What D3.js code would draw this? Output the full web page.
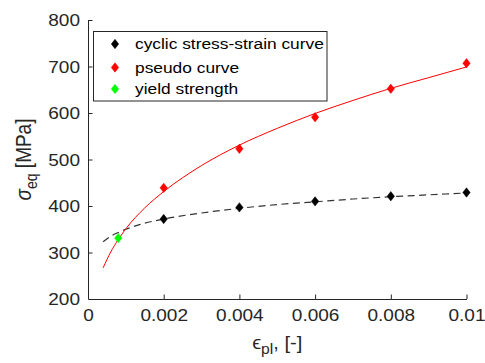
<!DOCTYPE html>
<html><head><meta charset="utf-8">
<script src="https://cdn.jsdelivr.net/npm/d3@7"></script>
<style>
html,body{margin:0;padding:0;background:#fff;}
svg{display:block;font-family:"Liberation Sans",Arial,sans-serif;}
</style></head>
<body><svg id="c" width="485" height="363"></svg>
<script>
// ---- data ----
const xTicks = [0, 0.002, 0.004, 0.006, 0.008, 0.01];
const xTickLabels = ["0", "0.002", "0.004", "0.006", "0.008", "0.01"];
const yTicks = [200, 300, 400, 500, 600, 700, 800];
const yTickLabels = ["200", "300", "400", "500", "600", "700", "800"];

const cyclicX = [0.002, 0.004, 0.006, 0.008, 0.01];
const cyclicY = [372, 397, 410, 421, 429];
const pseudoX = [0.002, 0.004, 0.006, 0.008, 0.01];
const pseudoY = [439, 523, 591, 652, 707];
const yieldX = [0.0008];
const yieldY = [331];

const curveX = [0.0004, 0.0006, 0.0008, 0.001, 0.0015, 0.002, 0.003, 0.004, 0.005, 0.006, 0.007, 0.008, 0.009, 0.01];
const pseudoCurveY = [267, 301, 328, 351, 396, 431, 487, 531, 567, 599, 627, 653, 676, 699];
const cyclicCurveY = [323, 335, 343, 350, 363, 372, 385, 395, 403, 409, 415, 420, 424, 428];

const legendLabels = ["cyclic stress-strain curve", "pseudo curve", "yield strength"];
const legendColors = ["#000000", "#ff0000", "#00ff00"];

// ---- layout ----
const svg = d3.select("#c");
const axisColor = "#262626";
const stretch = 1.12;
const mLeft = 88, mRight = 466.5, mTop = 20, mBottom = 299;
const x = d3.scaleLinear().domain([0, 0.01]).range([mLeft, mRight]);
const y = d3.scaleLinear().domain([200, 800]).range([mBottom, mTop]);

// axes
const xAxis = d3.axisBottom(x).tickValues(xTicks).tickSizeInner(-4.5).tickSizeOuter(0)
  .tickFormat((d, i) => xTickLabels[i]).tickPadding(10);
const gx = svg.append("g").attr("transform", `translate(0,${mBottom})`).call(xAxis);
const yAxis = d3.axisLeft(y).tickValues(yTicks).tickSizeInner(-4.5).tickSizeOuter(0)
  .tickFormat((d, i) => yTickLabels[i]).tickPadding(9);
const gy = svg.append("g").attr("transform", `translate(${mLeft},0)`).call(yAxis);
[gx, gy].forEach(g => {
  g.select(".domain").attr("stroke", axisColor).attr("stroke-width", 1);
  g.selectAll(".tick line").attr("stroke", axisColor);
  g.selectAll(".tick text").attr("fill", axisColor).attr("font-size", 17)
    .attr("font-family", "Liberation Sans, Arial, sans-serif")
    .attr("transform", `scale(${stretch},1)`);
});
gx.selectAll(".tick text").attr("dy", "0.71em");
gy.selectAll(".tick text").attr("dy", "0.35em").attr("x", -8 / stretch);
gx.selectAll(".tick").filter(d => d === 0).select("line").remove();
gy.selectAll(".tick").filter(d => d === 200).select("line").remove();

// curves
const line = d3.line().x(d => x(d[0])).y(d => y(d[1])).curve(d3.curveMonotoneX);
svg.append("path").datum(curveX.map((v, i) => [v, cyclicCurveY[i]]))
  .attr("d", line).attr("fill", "none").attr("stroke", "#333").attr("stroke-width", 1.2)
  .attr("stroke-dasharray", "7,4.5");
svg.append("path").datum(curveX.map((v, i) => [v, pseudoCurveY[i]]))
  .attr("d", line).attr("fill", "none").attr("stroke", "#ff0000").attr("stroke-width", 1);

// diamond marker
const diamond = { draw(ctx, size) { const w = 3.7, h = 4.7; ctx.moveTo(0, -h); ctx.lineTo(w, 0); ctx.lineTo(0, h); ctx.lineTo(-w, 0); ctx.closePath(); } };
const sym = d3.symbol().type(diamond);
function markers(xs, ys, color) {
  svg.append("g").selectAll("path").data(xs.map((v, i) => [v, ys[i]])).join("path")
    .attr("d", sym).attr("transform", d => `translate(${x(d[0])},${y(d[1])})`)
    .attr("fill", color).attr("stroke", color).attr("stroke-width", 0.5);
}
markers(cyclicX, cyclicY, "#000000");
markers(pseudoX, pseudoY, "#ff0000");
markers(yieldX, yieldY, "#00ff00");

// legend
const lg = svg.append("g");
lg.append("rect").attr("x", 93.5).attr("y", 31.5).attr("width", 233.5).attr("height", 69.5)
  .attr("fill", "#fff").attr("stroke", axisColor).attr("stroke-width", 1);
const rowY = [44, 67.5, 89];
legendLabels.forEach((t, i) => {
  lg.append("path").attr("d", sym).attr("transform", `translate(115,${rowY[i]})`)
    .attr("fill", legendColors[i]).attr("stroke", legendColors[i]).attr("stroke-width", 0.5);
  lg.append("text").attr("transform", `translate(135,${rowY[i]}) scale(${stretch},1)`).attr("dy", "0.35em")
    .attr("font-size", 15.5).attr("fill", "#000").text(t);
});

// axis labels
const yl = svg.append("text").attr("transform", `translate(31,${(mTop + mBottom) / 2}) rotate(-90) scale(1,${stretch})`)
  .attr("text-anchor", "middle").attr("font-size", 19).attr("fill", axisColor);
yl.append("tspan").attr("font-style", "italic").text("σ");
yl.append("tspan").attr("font-size", 14).attr("dy", 5).text("eq");
yl.append("tspan").attr("dy", -5).text(" [MPa]");

const xl = svg.append("text").attr("transform", `translate(${(mLeft + mRight) / 2},349) scale(${stretch},1)`)
  .attr("text-anchor", "middle").attr("font-size", 18).attr("fill", axisColor);
xl.append("tspan").text("ϵ");
xl.append("tspan").attr("font-size", 14).attr("dy", 5).text("pl");
xl.append("tspan").attr("dy", -5).text(", [-]");
</script></body></html>
